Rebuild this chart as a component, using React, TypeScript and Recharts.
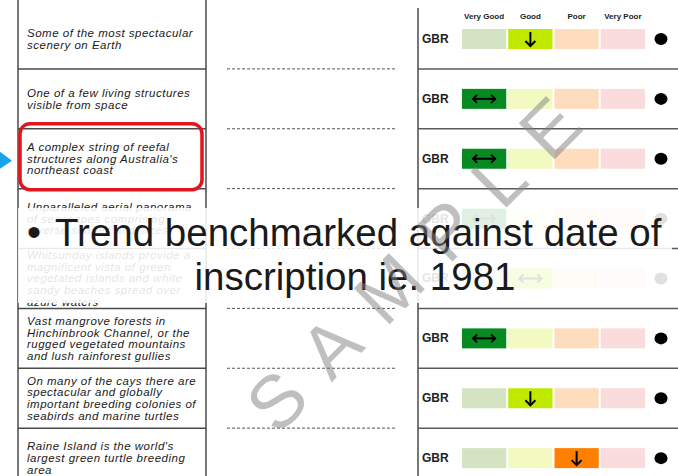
import React from "react";
import { BarChart, Bar, XAxis, YAxis } from "recharts";

// rating columns and their colours
const columns = ["Very Good", "Good", "Poor", "Very Poor"];
const activeColors = ["#078a1f", "#bfea00", "#ff7f00", "#e03030"];
const paleColors = ["#d4e3c1", "#f2fac1", "#fedcbe", "#fadcdc"];

// one entry per row of the table
const descriptions = [
  "Some of the most spectacular\nscenery on Earth",
  "One of a few living structures\nvisible from space",
  "A complex string of reefal\nstructures along Australia's\nnortheast coast",
  "Unparalleled aerial panorama\nof seascapes comprising\ndiverse shapes and sizes",
  "Whitsunday islands provide a\nmagnificent vista of green\nvegetated islands and white\nsandy beaches spread over\nazure waters",
  "Vast mangrove forests in\nHinchinbrook Channel, or the\nrugged vegetated mountains\nand lush rainforest gullies",
  "On many of the cays there are\nspectacular and globally\nimportant breeding colonies of\nseabirds and marine turtles",
  "Raine Island is the world's\nlargest green turtle breeding\narea",
];
const grades = [1, 0, 0, 0, 1, 0, 1, 2]; // index into columns
const trends = ["down", "steady", "steady", "steady", "steady", "steady", "down", "down"];
const regions = ["GBR", "GBR", "GBR", "GBR", "GBR", "GBR", "GBR", "GBR"];
const highlighted = [false, false, true, false, false, false, false, false];

const W = 678;
const H = 490;
const margin = { top: 8, right: 32, bottom: 2, left: 460 };
const band = (H - margin.top - 1 - margin.bottom) / descriptions.length;
const FONT = "Arial, 'Liberation Sans', sans-serif";

const data = descriptions.map((desc, i) => ({
  id: i,
  desc,
  grade: grades[i],
  trend: trends[i],
  region: regions[i],
  highlight: highlighted[i],
  c0: 1,
  c1: 1,
  c2: 1,
  c3: 1,
}));

function TrendArrow({ cx, cy, trend }: { cx: number; cy: number; trend: string }) {
  if (trend === "down") {
    return (
      <g stroke="#000" strokeWidth={2} fill="none">
        <line x1={cx} y1={cy - 7} x2={cx} y2={cy + 7} />
        <polyline points={`${cx - 5},${cy + 2} ${cx},${cy + 7} ${cx + 5},${cy + 2}`} />
      </g>
    );
  }
  return (
    <g stroke="#000" strokeWidth={2} fill="none">
      <line x1={cx - 11} y1={cy} x2={cx + 11} y2={cy} />
      <polyline points={`${cx - 7},${cy - 4} ${cx - 11},${cy} ${cx - 7},${cy + 4}`} />
      <polyline points={`${cx + 7},${cy - 4} ${cx + 11},${cy} ${cx + 7},${cy + 4}`} />
    </g>
  );
}

const makeCell = (col: number) => (props: any) => {
  const { x, y, width, height, payload } = props;
  const active = payload.grade === col;
  const cx = x + width / 2;
  const cy = y + height / 2;
  return (
    <g>
      <rect
        x={x + 1}
        y={y}
        width={width - 2}
        height={height}
        fill={active ? activeColors[col] : paleColors[col]}
      />
      {active && <TrendArrow cx={cx} cy={cy} trend={payload.trend} />}
      {col === columns.length - 1 && (
        <ellipse cx={x + width + 15} cy={cy} rx={6.5} ry={6} fill="#000" />
      )}
    </g>
  );
};

function RowTick(props: any) {
  const { y, payload } = props;
  const row = data[payload.value];
  if (!row) return null;
  const lines = row.desc.split("\n");
  const lh = 11.6;
  const top = y - ((lines.length - 1) * lh) / 2 + 4;
  const sep = y + band / 2;
  const last = row.id === data.length - 1;
  return (
    <g>
      {lines.map((t: string, k: number) => (
        <text
          key={k}
          x={27}
          y={top + k * lh}
          fontSize={11.5}
          fontStyle="italic"
          letterSpacing={0.5}
          fill="#1a1a1a"
          fontFamily={FONT}
        >
          {t}
        </text>
      ))}
      <text x={422} y={y + 4} fontSize={12} fontWeight="bold" fill="#222" fontFamily={FONT}>
        {row.region}
      </text>
      {!last && (
        <g>
          <line x1={18} x2={206} y1={sep} y2={sep} stroke="#4a4a4a" strokeWidth={1.5} />
          <line x1={227} x2={396} y1={sep} y2={sep} stroke="#555" strokeWidth={1} strokeDasharray="3 2" />
          <line x1={418} x2={678} y1={sep} y2={sep} stroke="#5a5a5a" strokeWidth={1.5} />
        </g>
      )}
      {row.highlight && (
        <g>
          <rect x={20} y={y - 35} width={182} height={66} rx={10} fill="none" stroke="#e3151a" strokeWidth={3.5} />
          <polygon points={`0,${y - 7} 12,${y + 2} 0,${y + 10}`} fill="#1aa3e8" />
        </g>
      )}
    </g>
  );
}

function HeaderTick(props: any) {
  const { x, payload } = props;
  const label = columns[Math.floor(payload.value)];
  return (
    <text x={x} y={margin.top + 11} textAnchor="middle" fontSize={8} fontWeight="bold" fill="#222" fontFamily={FONT}>
      {label}
    </text>
  );
}

export default function App() {
  return (
    <div
      style={{
        position: "absolute",
        left: 0,
        top: 0,
        width: W,
        height: 476,
        overflow: "hidden",
        background: "#fff",
      }}
    >
      <svg width={W} height={476} style={{ position: "absolute", left: 0, top: 0 }}>
        <line x1={18} x2={18} y1={0} y2={476} stroke="#4a4a4a" strokeWidth={1.5} />
        <line x1={206} x2={206} y1={0} y2={476} stroke="#4a4a4a" strokeWidth={1.5} />
        <line x1={418} x2={418} y1={8} y2={476} stroke="#4a4a4a" strokeWidth={1.5} />
      </svg>
      <div style={{ position: "absolute", left: 0, top: 0 }}>
        <BarChart width={W} height={H} data={data} layout="vertical" margin={margin} barSize={20}>
          <XAxis
            type="number"
            orientation="top"
            domain={[0, 4]}
            ticks={[0.5, 1.5, 2.5, 3.5]}
            interval={0}
            height={1}
            axisLine={false}
            tickLine={false}
            tick={<HeaderTick />}
          />
          <YAxis
            type="category"
            dataKey="id"
            width={1}
            interval={0}
            axisLine={false}
            tickLine={false}
            tick={<RowTick />}
          />
          {columns.map((c, k) => (
            <Bar key={c} dataKey={`c${k}`} stackId="grid" isAnimationActive={false} shape={makeCell(k)} />
          ))}
        </BarChart>
      </div>
      <svg width={W} height={476} style={{ position: "absolute", left: 0, top: 0 }}>
        <rect x={18} y={208} width={654} height={95} fill="#fff" opacity={0.88} />
        <text x={27} y={246} fontSize={40} fill="#1a1a1a" fontFamily={FONT}>
          •
        </text>
        <text x={55} y={246} fontSize={38.5} fill="#1a1a1a" fontFamily={FONT}>
          Trend benchmarked against date of
        </text>
        <text x={355} y={290} textAnchor="middle" fontSize={38.5} fill="#1a1a1a" fontFamily={FONT}>
          inscription ie. 1981
        </text>
        <text
          x={423}
          y={255}
          textAnchor="middle"
          dominantBaseline="central"
          fontSize={74}
          letterSpacing={27}
          fill="#808080"
          opacity={0.5}
          fontFamily={FONT}
          transform="rotate(-45 423 255)"
        >
          SAMPLE
        </text>
      </svg>
    </div>
  );
}
